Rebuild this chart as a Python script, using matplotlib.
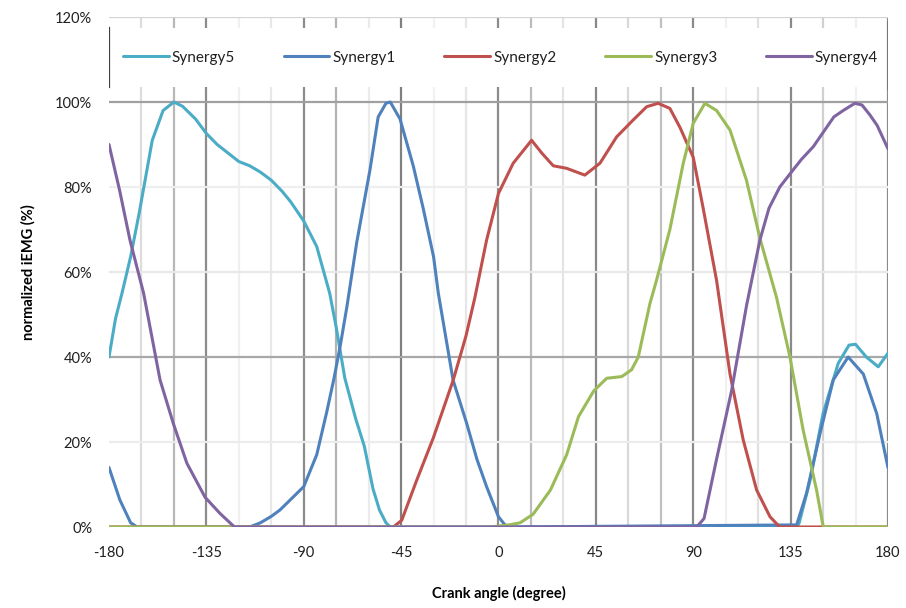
import matplotlib
matplotlib.use("Agg")
import matplotlib.pyplot as plt
from matplotlib.patches import Rectangle

plt.rcParams['font.family'] = ['Lato', 'DejaVu Sans']

# synergy activation curves over one crank cycle (normalized iEMG, %)
syn5_angle = [-180, -177, -174, -170, -166, -160, -155, -150, -146, -140, -135, -130, -125,
              -120, -115, -110, -105, -100, -96, -90, -84, -78, -75, -71, -66, -62, -58,
              -55, -52, -50, 138, 139, 144, 150, 157, 162, 165, 170, 175.5, 180]
syn5_value = [40, 49, 55, 63.6, 74, 91, 98, 100, 99, 96, 92.6, 90, 88,
              86, 85, 83.5, 81.6, 79, 76.5, 72, 66, 55, 47, 35, 25.5, 19, 9,
              4, 1, 0, 0, 1, 11, 26.7, 38.5, 42.8, 43, 40, 37.7, 40.9]

syn1_angle = [-180, -175, -170, -167, -115, -110, -105, -101, -95, -90, -84, -79.4, -76,
              -73, -70, -65.5, -59.4, -55.6, -52, -50, -45.5, -39.4, -34.8, -30, -27.8,
              -21, -14.7, -10, -5.5, 0, 3, 5, 137.8, 142.4, 148.6, 154.7, 161.6, 168.6,
              174.8, 180]
syn1_value = [14, 6.4, 1, 0, 0, 1, 2.5, 4, 7, 9.5, 17, 27, 35,
              43, 52, 67, 84, 96.5, 99.7, 100, 96, 85, 75, 63.6, 55,
              34.6, 24.4, 16, 9.5, 2.4, 0.5, 0, 0.5, 8, 22, 34.6, 40, 36,
              26.7, 14]

syn2_angle = [-180, -48.6, -44.7, -37.8, -30.1, -20.9, -15, -10.9, -5.5, 0, 6.8, 15.3, 20,
              25.3, 31.5, 39.9, 46.9, 54.6, 62.3, 68.5, 73.8, 79.2, 83.9, 90, 94.6, 100.8,
              107, 113.1, 119.3, 125.5, 130, 180]
syn2_value = [0, 0, 1.6, 11, 21, 34.6, 45, 54, 67.5, 78.5, 85.6, 91, 88,
              85, 84.4, 82.8, 85.6, 91.8, 95.8, 98.9, 99.7, 98.5, 94, 87, 75, 58,
              36, 20.5, 8.7, 2.4, 0, 0]

syn3_angle = [-180, -4, 5, 10, 16, 24, 31.5, 37, 44, 50, 57, 61.5, 64.6, 67, 70, 73, 79.2,
              85.4, 90, 95.4, 100.8, 107, 114.6, 120.8, 128.5, 134.7, 140.8, 147, 150.1, 180]
syn3_value = [0, 0, 0.5, 1, 3, 8.7, 17, 26, 32, 35, 35.4, 37, 40, 45.6, 52.6, 58, 70,
              85.6, 95, 99.7, 98, 93.4, 81.6, 68, 54, 40, 22.8, 8.7, 0, 0]

syn4_angle = [-180, -175, -170.3, -164, -156.4, -150.3, -144, -135.6, -128.7, -122, 91.6,
              95, 100.8, 107.7, 114.6, 120.8, 125, 130, 135.5, 140, 145.5, 151.6, 155,
              159.3, 164.7, 168, 171.6, 175, 180]
syn4_value = [90, 79, 67.5, 55, 34.6, 24.4, 15, 7, 3.2, 0, 0,
              2, 16, 32, 52, 67.5, 75, 80, 83.6, 86.5, 89.5, 94, 96.5,
              98, 99.7, 99.3, 97, 94.5, 89]

series = [
    ("Synergy5", syn5_angle, syn5_value, "#4BACC6"),
    ("Synergy1", syn1_angle, syn1_value, "#4F81BD"),
    ("Synergy2", syn2_angle, syn2_value, "#C0504D"),
    ("Synergy3", syn3_angle, syn3_value, "#9BBB59"),
    ("Synergy4", syn4_angle, syn4_value, "#8064A2"),
]

x_ticks = [-180, -135, -90, -45, 0, 45, 90, 135, 180]
y_ticks = [0, 20, 40, 60, 80, 100, 120]

# grid shades as rendered in the exported sheet
vgrid_angle = list(range(-165, 181, 15))
vgrid_shade = ["#dcdcdc", "#b8b8b8", "#8c8c8c", "#f0f0f0", "#e8e8e8", "#8c8c8c", "#b4b4b4",
               "#ebebeb", "#808080", "#f2f2f2", "#e6e6e6", "#8c8c8c", "#bcbcbc", "#e4e4e4",
               "#888888", "#d8d8d8", "#c0c0c0", "#8a8a8a", "#f0f0f0", "#e0e0e0", "#8a8a8a",
               "#d0d0d0", "#f0f0f0", "#8a8a8a"]
hgrid_shade = ["#a0a0a0", "#ececec", "#a8a8a8", "#e8e8e8", "#eeeeee", "#a0a0a0", "#d4d4d4"]

fig = plt.figure(figsize=(9.06, 6.08), dpi=100)
ax = fig.add_axes([0.1203, 0.1332, 0.8598, 0.8388])

for a, c in zip(vgrid_angle, vgrid_shade):
    ax.axvline(a, color=c, lw=1.6, zorder=0)
for v, c in zip(y_ticks, hgrid_shade):
    ax.axhline(v, color=c, lw=1.6, zorder=0)

# white legend panel over the top band of the grid
ax.add_patch(Rectangle((0.004, 0.862), 0.992, 0.116, transform=ax.transAxes,
                       facecolor="white", edgecolor="none", zorder=1))
ax.axvline(-180, ymin=0.862, ymax=0.978, color="#404040", lw=1.6, zorder=4)
ax.axvline(180, ymin=0.86, ymax=0.99, color="#707070", lw=1.8, zorder=4)

for name, xs, ys, col in series:
    ax.plot(xs, ys, color=col, lw=2.2, label=name, zorder=2,
            solid_joinstyle="round", solid_capstyle="round")

ax.set_xlim(-180, 180)
ax.set_ylim(0, 120)
ax.set_xticks(x_ticks)
ax.set_xticklabels([str(t) for t in x_ticks])
ax.set_yticks(y_ticks)
ax.set_yticklabels([f"{t}%" for t in y_ticks])
ax.tick_params(length=0, labelsize=10.5, colors="#202020")
ax.tick_params(axis="x", pad=14)
ax.tick_params(axis="y", pad=12)
for s in ax.spines.values():
    s.set_visible(False)

ax.set_xlabel("Crank angle (degree)", fontsize=10.5, fontweight="bold", labelpad=18)
ax.set_ylabel("normalized iEMG (%)", fontsize=10.5, fontweight="bold", labelpad=14)

leg = ax.legend(loc="center", bbox_to_anchor=(0.01, 0.862, 0.985, 0.116),
                mode="expand", ncol=5, frameon=False,
                fontsize=11, handlelength=3.0, handletextpad=0.2,
                borderaxespad=0, labelcolor="#202020")
leg.set_zorder(3)

fig.savefig("out.png", dpi=100)
